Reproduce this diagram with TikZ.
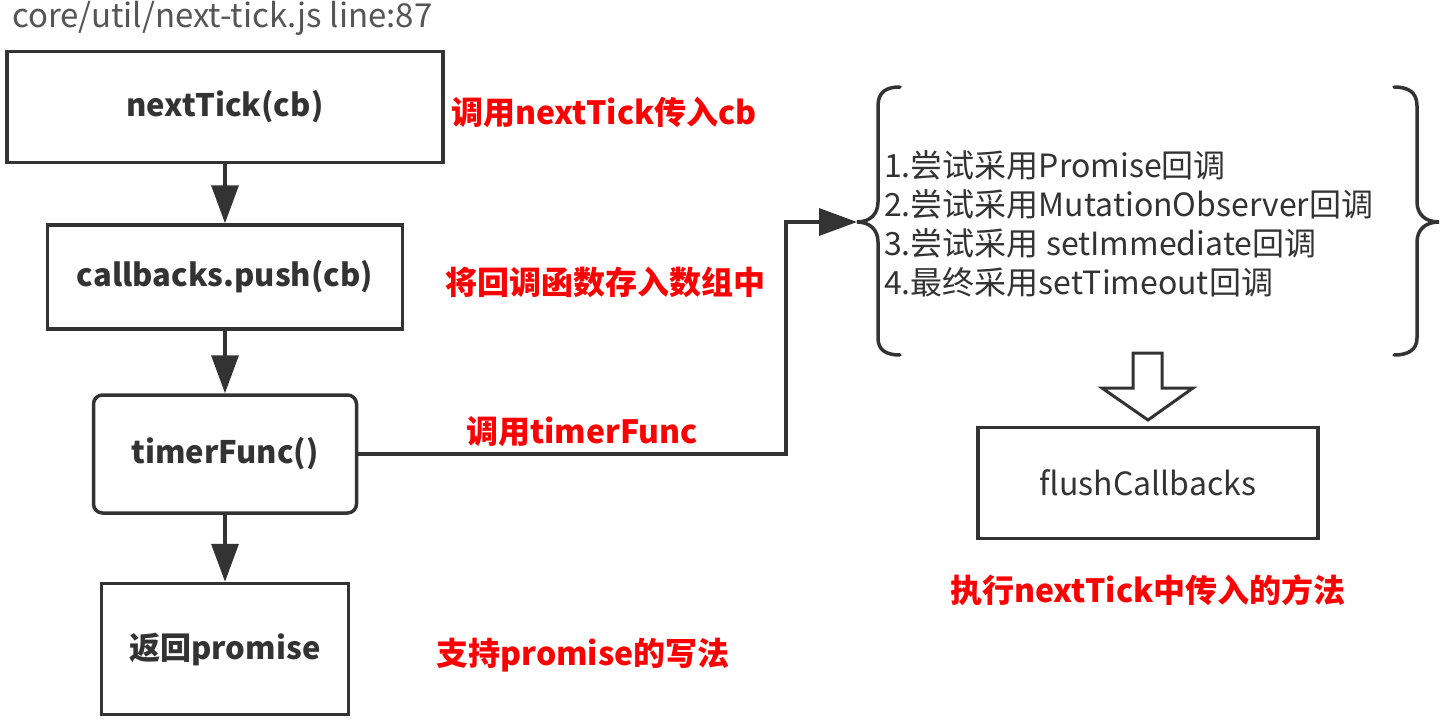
\documentclass[tikz,border=0pt]{standalone}
\usepackage{fontspec}
\setmainfont{Noto Sans CJK SC}
\usetikzlibrary{positioning,arrows.meta}

\begin{document}
\begin{tikzpicture}[x=1pt,y=-1pt,
  box/.style={draw=boxColor,line width=3.5pt,fill=white,inner sep=0pt,text=boxColor,font=\fontsize{31}{36}\selectfont\bfseries},
  note/.style={text=red,inner sep=0pt,font=\fontsize{32}{36}\selectfont\bfseries},
  flow/.style={draw=boxColor,line width=3.5pt,->,>={Triangle[length=38pt,width=27pt]}},
  brace/.style={draw=boxColor,line width=3.5pt,line cap=round}]
\definecolor{boxColor}{RGB}{51,51,51}
\definecolor{titleColor}{RGB}{85,85,85}
\useasboundingbox (0,0) rectangle (1442,720);
\node[anchor=west,inner sep=0pt,text=titleColor,font=\fontsize{33}{36}\selectfont] (title) at (12,18) {core/util/next-tick.js line:87};
\node[box,minimum width=436pt,minimum height=111pt] (tick) at (225,107) {nextTick(cb)};
\node[box,minimum width=355pt,minimum height=104pt] (push) at (225,277) {callbacks.push(cb)};
\node[box,rounded corners=9pt,minimum width=263pt,minimum height=118pt] (timer) at (225,454) {timerFunc()};
\node[box,minimum width=247pt,minimum height=131pt] (ret) at (225,649) {返回promise};
\node[box,font=\fontsize{32}{36}\selectfont,minimum width=340pt,minimum height=111pt] (flush) at (1148,483) {flushCallbacks};
\node[note] (tickNote) at (604,112) {调用nextTick传入cb};
\node[note] (pushNote) at (605,282) {将回调函数存入数组中};
\node[note] (timerNote) at (582,432) {调用timerFunc};
\node[note] (retNote) at (583,655) {支持promise的写法};
\node[note] (flushNote) at (1148,590) {执行nextTick中传入的方法};
\node[anchor=west,align=left,inner sep=0pt,text=boxColor,font=\fontsize{32}{39}\selectfont] (list) at (884,223.5) {1.尝试采用Promise回调\\2.尝试采用MutationObserver回调\\3.尝试采用 setImmediate回调\\4.最终采用setTimeout回调};
\coordinate (lb) at (857,222);
\coordinate (bend) at (786,222);
\draw[flow] (tick) -- (push);
\draw[flow] (push) -- (timer);
\draw[flow] (timer) -- (ret);
\draw[flow] (timer.east) -| (bend) -- (lb);
\draw[brace] (900,87) .. controls (886,87) and (878,92) .. (878,106) -- (878,202) .. controls (878,214) and (870,222) .. (lb) .. controls (870,222) and (878,230) .. (878,242) -- (878,338) .. controls (878,350) and (886,355) .. (900,355);
\draw[brace] (1394,87) .. controls (1408,87) and (1417,92) .. (1417,106) -- (1417,202) .. controls (1417,214) and (1425,222) .. (1439,222) .. controls (1425,222) and (1417,230) .. (1417,242) -- (1417,338) .. controls (1417,350) and (1408,355) .. (1394,355);
\draw[boxColor,line width=3pt,fill=white,line join=miter] (1133,353) -- (1162,353) -- (1162,388) -- (1193,388) -- (1148,420) -- (1102,388) -- (1133,388) -- cycle;
\end{tikzpicture}
\end{document}
